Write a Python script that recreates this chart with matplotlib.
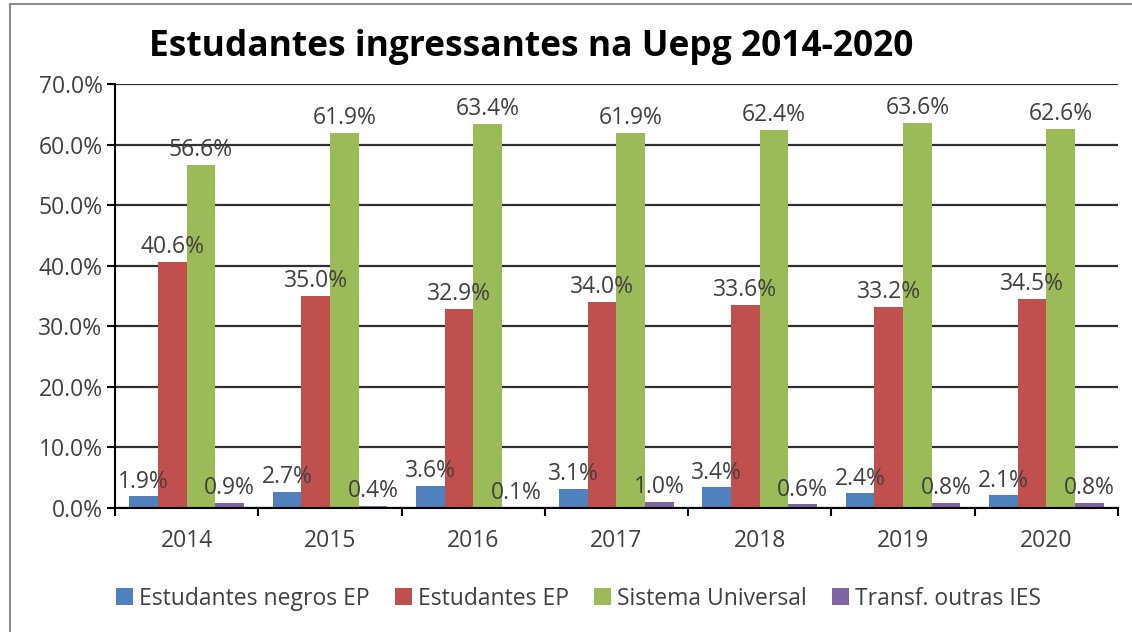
import matplotlib.pyplot as plt
import numpy as np
from matplotlib.lines import Line2D
from matplotlib.ticker import FuncFormatter

anos = ["2014", "2015", "2016", "2017", "2018", "2019", "2020"]
negros_ep = [1.9, 2.7, 3.6, 3.1, 3.4, 2.4, 2.1]
estudantes_ep = [40.6, 35.0, 32.9, 34.0, 33.6, 33.2, 34.5]
universal = [56.6, 61.9, 63.4, 61.9, 62.4, 63.6, 62.6]
transf = [0.9, 0.4, 0.1, 1.0, 0.6, 0.8, 0.8]

series = [
    ("Estudantes negros EP", negros_ep, "#4F81BD"),
    ("Estudantes EP", estudantes_ep, "#C0504D"),
    ("Sistema Universal", universal, "#9BBB59"),
    ("Transf. outras IES", transf, "#8064A2"),
]

plt.rcParams["font.family"] = ["Open Sans", "DejaVu Sans"]

fig = plt.figure(figsize=(11.32, 6.32), dpi=100)
ax = fig.add_axes([0.1016, 0.1962, 0.886, 0.6708])

x = np.arange(len(anos))
width = 0.2
bars = []
for i, (nome, vals, cor) in enumerate(series):
    b = ax.bar(x - 0.3 + i * width, vals, width, color=cor, label=nome, zorder=2)
    bars.append(b)

# data labels drawn after every bar so they sit on top
for b, (nome, vals, cor) in zip(bars, series):
    for rect, v in zip(b, vals):
        ax.annotate(f"{v:.1f}%", (rect.get_x() + rect.get_width() / 2, v),
                    xytext=(0, 2), textcoords="offset points",
                    ha="center", va="bottom", fontsize=16.5, color="#404040", zorder=5)

ax.set_xlim(-0.5, len(anos) - 0.5)
ax.set_ylim(0, 70)
ax.set_yticks(np.arange(0, 71, 10))
ax.yaxis.set_major_formatter(FuncFormatter(lambda v, p: f"{v:.1f}%"))
ax.set_xticks(x)
ax.set_xticklabels(anos)
ax.set_xticks(np.arange(-0.5, len(anos), 1), minor=True)
ax.tick_params(axis="x", which="major", length=0, pad=15, labelsize=16.5, labelcolor="#404040")
ax.tick_params(axis="x", which="minor", length=6, width=1.5, direction="out")
ax.tick_params(axis="y", length=6, width=1.5, labelsize=16.5, labelcolor="#404040", pad=3)

ax.grid(axis="y", color="#303030", linewidth=1.6, zorder=0)
ax.set_axisbelow(True)
for s in ["top", "right"]:
    ax.spines[s].set_visible(False)
ax.spines["left"].set_linewidth(1.5)
ax.spines["bottom"].set_linewidth(1.5)

fig.text(0.469, 0.926, "Estudantes ingressantes na Uepg 2014-2020",
         ha="center", va="center", fontsize=25.5, fontweight="bold", color="black")

fig.legend(loc="center", bbox_to_anchor=(0.511, 0.053), ncol=4, frameon=False,
           fontsize=16.5, handlelength=0.75, handleheight=0.75, handletextpad=0.25,
           columnspacing=1.1, labelcolor="#404040")

# outer chart border (top and left visible in the crop)
fig.add_artist(Line2D([0.009, 0.009], [0, 0.993], color="#8c8c8c", lw=1.5))
fig.add_artist(Line2D([0.009, 1.0], [0.993, 0.993], color="#8c8c8c", lw=1.5))

fig.savefig("out.png", dpi=100)
